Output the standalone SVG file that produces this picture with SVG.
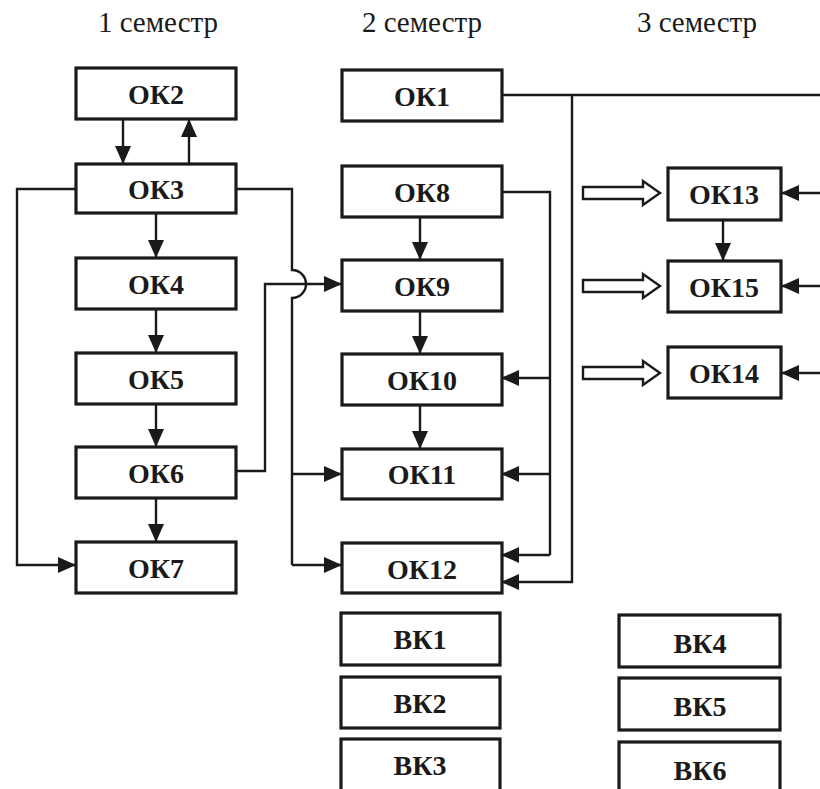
<svg xmlns="http://www.w3.org/2000/svg" width="820" height="789" viewBox="0 0 820 789">
<style>
.box{fill:#fff;stroke:#1a1a1a;stroke-width:3.2}
.lbl{font-family:'Liberation Serif','DejaVu Serif','Times New Roman',serif;font-weight:bold;font-size:28px;fill:#1a1a1a;text-anchor:middle}
.ttl{font-family:'Liberation Serif','DejaVu Serif','Times New Roman',serif;font-size:29px;fill:#1a1a1a;text-anchor:middle}
.ln{fill:none;stroke:#1a1a1a;stroke-width:2.4}
.arr{marker-end:url(#ah)}
.hol{fill:#fff;stroke:#1a1a1a;stroke-width:2.4}
</style>
<defs>
<marker id="ah" markerUnits="userSpaceOnUse" markerWidth="18" markerHeight="16" refX="18" refY="8" orient="auto">
<path d="M0,0 L18,8 L0,16 Z" fill="#1a1a1a"/>
</marker>
</defs>
<rect width="820" height="789" fill="#fff"/>
<g id="titles">
<text class="ttl" x="158" y="32">1 семестр</text>
<text class="ttl" x="422" y="32">2 семестр</text>
<text class="ttl" x="697" y="32">3 семестр</text>
</g>
<g id="connectors">
<path class="ln arr" d="M123,119 V164"/>
<path class="ln arr" d="M189,164 V119"/>
<path class="ln arr" d="M156,213 V258"/>
<path class="ln arr" d="M156,309 V353"/>
<path class="ln arr" d="M156,404 V447"/>
<path class="ln arr" d="M156,498 V542"/>
<path class="ln arr" d="M76,189 H17 V565 H76"/>
<path class="ln" d="M236,189 H292 V270 A14,14 0 0 1 292,298 V565"/>
<path class="ln arr" d="M292,565 H342"/>
<path class="ln arr" d="M292,474 H342"/>
<path class="ln arr" d="M236,471 H265 V284 H342"/>
<path class="ln arr" d="M420,217 V260"/>
<path class="ln arr" d="M420,311 V354"/>
<path class="ln arr" d="M420,405 V449"/>
<path class="ln" d="M502,192 H550 V555"/>
<path class="ln arr" d="M550,555 H501"/>
<path class="ln arr" d="M550,378 H501"/>
<path class="ln arr" d="M550,474 H501"/>
<path class="ln" d="M502,95 H820"/>
<path class="ln arr" d="M572,95 V582 H501"/>
<path class="ln arr" d="M723,220 V261"/>
<path class="ln arr" d="M820,193 H781"/>
<path class="ln arr" d="M820,286 H781"/>
<path class="ln arr" d="M820,373 H781"/>
<polygon class="hol" points="583,187 643,187 643,181 660,193 643,205 643,199 583,199"/>
<polygon class="hol" points="583,280 643,280 643,274 660,286 643,298 643,292 583,292"/>
<polygon class="hol" points="583,367 643,367 643,361 660,373 643,385 643,379 583,379"/>
</g>
<g id="OK2"><rect class="box" x="76" y="68" width="160" height="51"/><text class="lbl" x="156" y="104">ОК2</text></g>
<g id="OK3"><rect class="box" x="76" y="164" width="160" height="49"/><text class="lbl" x="156" y="199">ОК3</text></g>
<g id="OK4"><rect class="box" x="76" y="258" width="160" height="51"/><text class="lbl" x="156" y="294">ОК4</text></g>
<g id="OK5"><rect class="box" x="76" y="353" width="160" height="51"/><text class="lbl" x="156" y="389">ОК5</text></g>
<g id="OK6"><rect class="box" x="76" y="447" width="160" height="51"/><text class="lbl" x="156" y="483">ОК6</text></g>
<g id="OK7"><rect class="box" x="76" y="542" width="160" height="51"/><text class="lbl" x="156" y="578">ОК7</text></g>
<g id="OK1"><rect class="box" x="342" y="70" width="160" height="51"/><text class="lbl" x="422" y="106">ОК1</text></g>
<g id="OK8"><rect class="box" x="342" y="166" width="160" height="51"/><text class="lbl" x="422" y="202">ОК8</text></g>
<g id="OK9"><rect class="box" x="342" y="260" width="160" height="51"/><text class="lbl" x="422" y="296">ОК9</text></g>
<g id="OK10"><rect class="box" x="342" y="354" width="160" height="51"/><text class="lbl" x="422" y="390">ОК10</text></g>
<g id="OK11"><rect class="box" x="342" y="449" width="160" height="50"/><text class="lbl" x="422" y="484">ОК11</text></g>
<g id="OK12"><rect class="box" x="342" y="543" width="160" height="50"/><text class="lbl" x="422" y="579">ОК12</text></g>
<g id="BK1"><rect class="box" x="341" y="613" width="159" height="52"/><text class="lbl" x="420" y="649">ВК1</text></g>
<g id="BK2"><rect class="box" x="341" y="677" width="159" height="51"/><text class="lbl" x="420" y="713">ВК2</text></g>
<g id="BK3"><rect class="box" x="341" y="739" width="159" height="52"/><text class="lbl" x="420" y="775">ВК3</text></g>
<g id="OK13"><rect class="box" x="668" y="168" width="113" height="52"/><text class="lbl" x="724" y="204">ОК13</text></g>
<g id="OK15"><rect class="box" x="668" y="261" width="113" height="51"/><text class="lbl" x="724" y="297">ОК15</text></g>
<g id="OK14"><rect class="box" x="668" y="347" width="113" height="51"/><text class="lbl" x="724" y="383">ОК14</text></g>
<g id="BK4"><rect class="box" x="619" y="615" width="161" height="52"/><text class="lbl" x="700" y="653">ВК4</text></g>
<g id="BK5"><rect class="box" x="619" y="678" width="161" height="52"/><text class="lbl" x="700" y="716">ВК5</text></g>
<g id="BK6"><rect class="box" x="619" y="742" width="161" height="52"/><text class="lbl" x="700" y="780">ВК6</text></g>
</svg>
